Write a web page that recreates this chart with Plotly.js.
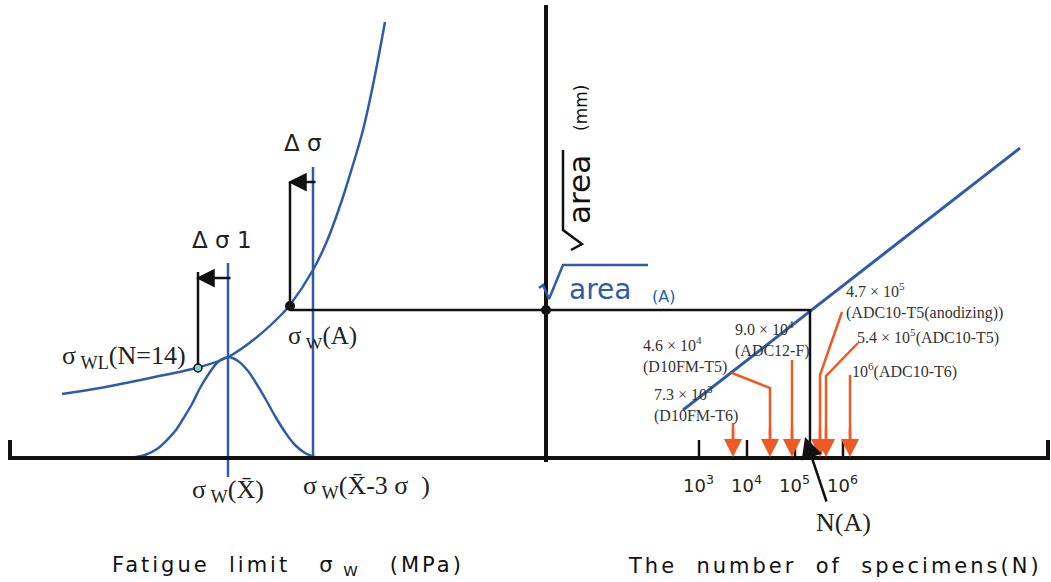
<!DOCTYPE html>
<html><head><meta charset="utf-8">
<script src="https://cdn.plot.ly/plotly-3.0.1.min.js"></script>
<style>html,body{margin:0;padding:0;background:#fff}#c{width:1051px;height:582px}</style>
</head><body><div id="c"></div><script>
// ---- schematic values (diagram units) ----
const sigmaCurveX = [62,100,150,200,228,257,283,290,313,327,342,352,363,374,385];
const sigmaCurveY = [394,388,378,367,357,337,313,305,270,241,200,168,130,80,22];
const bellX = [130,145,157,167,176,183,192,200,210,218,228,238,248,256,265,275,285,295,305,318];
const bellY = [458,455,449,440,430,419,404,388,372,362,357,361,371,383,398,416,432,445,453,458];
const meanLineX = [228,228], meanLineY = [263,477];
const minusLineX = [313,313], minusLineY = [167,458];
const sqrtLineX = [683,1020], sqrtLineY = [410,148];
const baseX = [10,10,1048,1048], baseY = [440,458,458,440];
const axisX = [546,546], axisY = [5,462];
const projX = [290,810,810], projY = [310,310,458];
const bracketX = [290,290], bracketY = [306,182];
const bracket1X = [198,198], bracket1Y = [368,272];
const radicalAX = [539,543,549,563,648], radicalAY = [288,285,299,265,265];
const radicalVX = [571,582,563,563], radicalVY = [250,244,230,150];
const tickX = [699,747,795,843];
const tickLabels = ['10<sup>3</sup>','10<sup>4</sup>','10<sup>5</sup>','10<sup>6</sup>'];
const specPathX = [[733,733],[732,770,770],[792,792],[842,820,820],[858,826,826],[850,850]];
const specPathY = [[423,457],[373,388,457],[360,457],[312,375,457],[343,376,457],[375,457]];
const specLabels = [
  '7.3 × 10<sup>3</sup><br>(D10FM-T6)',
  '4.6 × 10<sup>4</sup><br>(D10FM-T5)',
  '9.0 × 10<sup>4</sup><br>(ADC12-F)',
  '4.7 × 10<sup>5</sup><br>(ADC10-T5(anodizing))',
  '5.4 × 10<sup>5</sup>(ADC10-T5)',
  '10<sup>6</sup>(ADC10-T6)'
];
const specLabelPos = [[652,404],[641,355],[733,339],[844,301],[855,336],[850,370]];

const BLUE = '#2F5CA8', ORANGE = '#EE5A24', BLACK = '#111';
const SANS = 'DejaVu Sans', SERIF = 'Liberation Serif';
const traces = [];
function line(x, y, color, w, shape) {
  traces.push({type:'scatter', mode:'lines', x:x, y:y, hoverinfo:'skip',
    line:{color:color, width:w, shape:shape||'linear', smoothing:1}});
}
line(sigmaCurveX, sigmaCurveY, BLUE, 2.5, 'spline');
line(bellX, bellY, BLUE, 2.5, 'spline');
line(meanLineX, meanLineY, BLUE, 2.5);
line(minusLineX, minusLineY, BLUE, 2.5);
line(sqrtLineX, sqrtLineY, BLUE, 3);
line(baseX, baseY, BLACK, 4);
line(axisX, axisY, BLACK, 4);
line(projX, projY, BLACK, 2.5);
line(bracketX, bracketY, BLACK, 2.5);
line(bracket1X, bracket1Y, BLACK, 2.5);
line(radicalAX, radicalAY, BLUE, 2.5);
line(radicalVX, radicalVY, BLACK, 2.5);
tickX.forEach(function(t){ line([t,t],[440,458], BLACK, 2.5); });
specPathX.forEach(function(px,i){
  const py = specPathY[i].slice(); py[py.length-1] -= 8; line(px, py, ORANGE, 2.5);
});
traces.push({type:'scatter', mode:'markers', x:[290,546], y:[306,310], hoverinfo:'skip',
  marker:{color:BLACK, size:10}});
traces.push({type:'scatter', mode:'markers', x:[198], y:[368], hoverinfo:'skip',
  marker:{color:'#7fd6c8', size:8, line:{color:BLACK, width:1.5}}});

const ann = [];
function txt(x, y, text, opts) {
  ann.push(Object.assign({x:x, y:y, xref:'x', yref:'y', text:text, showarrow:false,
    xanchor:'center', yanchor:'middle', font:{family:SERIF, size:20, color:'#222'}}, opts||{}));
}
function arrow(x, y, ax, ay, color, w, size) {
  ann.push({x:x, y:y, ax:ax, ay:ay, xref:'x', yref:'y', axref:'x', ayref:'y', text:'',
    showarrow:true, arrowhead:2, arrowsize:size, arrowwidth:w, arrowcolor:color, standoff:0, startstandoff:0});
}
specPathX.forEach(function(px,i){
  const n = px.length; arrow(px[n-1], specPathY[i][n-1], px[n-1], specPathY[i][n-1]-30, ORANGE, 2.5, 1.45);
});
arrow(288, 182, 317, 182, BLACK, 2.5, 1.5);
arrow(196, 278, 232, 278, BLACK, 2.5, 1.5);
arrow(805, 437, 827, 503, BLACK, 2.5, 1.7);

txt(303, 143, 'Δ&nbsp;σ', {font:{family:SANS, size:23, color:'#222'}});
txt(222, 240, 'Δ&nbsp;σ&nbsp;1', {font:{family:SANS, size:23, color:'#222'}});
txt(188, 357, 'σ<sub>&nbsp;WL</sub>(N=14)', {xanchor:'right', font:{family:SERIF, size:26, color:'#222'}});
txt(286, 337, 'σ<sub>&nbsp;W</sub>(A)', {xanchor:'left', font:{family:SERIF, size:25, color:'#222'}});
txt(190, 491, 'σ<sub>&nbsp;W</sub>(X̄)', {xanchor:'left', font:{family:SERIF, size:26, color:'#222'}});
txt(301, 487, 'σ<sub>&nbsp;W</sub>(X̄-3&nbsp;σ&nbsp;&nbsp;)', {xanchor:'left', font:{family:SERIF, size:26, color:'#222'}});
tickX.forEach(function(t,i){ txt(t-1, 484, tickLabels[i], {font:{family:SANS, size:18, color:'#222'}}); });
txt(843, 522, 'N(A)', {font:{family:SERIF, size:26, color:'#222'}});
specLabels.forEach(function(s,i){
  txt(specLabelPos[i][0], specLabelPos[i][1], s, {xanchor:'left', align:'left',
    font:{family:SERIF, size:16, color:'#333'}});
});
// rotated sqrt(area) axis label
txt(579, 190, 'area', {textangle:-90, font:{family:SANS, size:31, color:'#111'}});
txt(581, 108, '(mm)', {textangle:-90, font:{family:SANS, size:17, color:'#111'}});
// sqrt(area)(A) label
txt(567, 289, 'area', {xanchor:'left', font:{family:SANS, size:28, color:BLUE}});
txt(650, 296, '(A)', {xanchor:'left', font:{family:SANS, size:16, color:BLUE}});
// bottom titles
txt(288, 566, '<span style="letter-spacing:3px">Fatigue&nbsp;&nbsp;limit&nbsp;&nbsp;&nbsp;σ<sub>&nbsp;W</sub>&nbsp;&nbsp;&nbsp;(MPa)</span>', {font:{family:SANS, size:21, color:'#111'}});
txt(835, 566, '<span style="letter-spacing:3px">The&nbsp;&nbsp;number&nbsp;&nbsp;of&nbsp;&nbsp;specimens(N)</span>', {font:{family:SANS, size:21, color:'#111'}});

const layout = {
  width:1051, height:582, margin:{l:0,r:0,t:0,b:0}, showlegend:false,
  paper_bgcolor:'#fff', plot_bgcolor:'#fff',
  xaxis:{range:[0,1051], visible:false, fixedrange:true},
  yaxis:{range:[582,0], visible:false, fixedrange:true},
  annotations:ann
};
Plotly.newPlot('c', traces, layout, {staticPlot:true, displayModeBar:false});
</script></body></html>
